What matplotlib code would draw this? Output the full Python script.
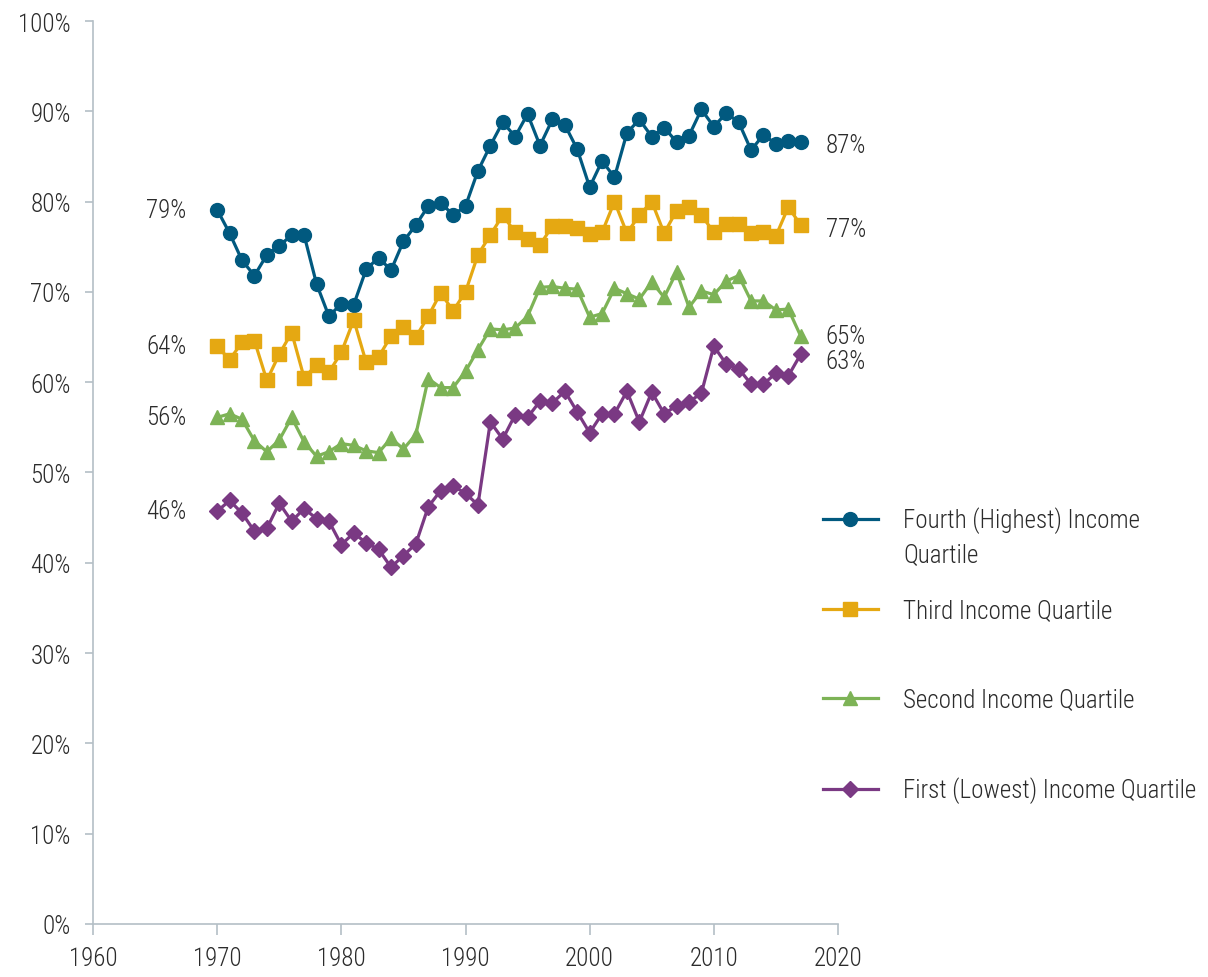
import numpy as np
import matplotlib.pyplot as plt
from matplotlib.ticker import FuncFormatter

years = np.arange(1970, 2018)

fourth = [79.1, 76.5, 73.5, 71.8, 74.1, 75.1, 76.3, 76.3, 70.9, 67.3,
          68.7, 68.6, 72.5, 73.8, 72.4, 75.6, 77.4, 79.5, 79.9, 78.5,
          79.5, 83.4, 86.2, 88.8, 87.2, 89.7, 86.2, 89.1, 88.5, 85.8,
          81.6, 84.5, 82.7, 87.6, 89.1, 87.2, 88.2, 86.6, 87.3, 90.2,
          88.3, 89.8, 88.8, 85.7, 87.4, 86.4, 86.7, 86.6]
third = [64.0, 62.5, 64.4, 64.6, 60.2, 63.1, 65.5, 60.5, 61.9, 61.1,
         63.3, 66.9, 62.2, 62.8, 65.1, 66.1, 65.0, 67.3, 69.9, 67.9,
         70.0, 74.1, 76.3, 78.5, 76.6, 75.9, 75.2, 77.3, 77.3, 77.1,
         76.4, 76.6, 80.0, 76.5, 78.5, 80.0, 76.5, 79.0, 79.4, 78.5,
         76.6, 77.5, 77.5, 76.5, 76.6, 76.2, 79.4, 77.4]
second = [56.1, 56.5, 55.9, 53.5, 52.3, 53.6, 56.1, 53.4, 51.8, 52.3,
          53.2, 53.0, 52.4, 52.2, 53.8, 52.6, 54.2, 60.4, 59.4, 59.4,
          61.2, 63.6, 65.9, 65.8, 66.0, 67.3, 70.5, 70.6, 70.4, 70.3,
          67.2, 67.6, 70.4, 69.8, 69.2, 71.1, 69.4, 72.2, 68.3, 70.1,
          69.7, 71.2, 71.8, 69.0, 69.0, 68.0, 68.1, 65.1]
first = [45.7, 46.9, 45.5, 43.5, 43.8, 46.6, 44.6, 46.0, 44.9, 44.6,
         42.0, 43.3, 42.2, 41.5, 39.5, 40.8, 42.1, 46.2, 48.0, 48.5,
         47.7, 46.4, 55.6, 53.7, 56.4, 56.1, 57.9, 57.7, 59.0, 56.7,
         54.4, 56.5, 56.5, 59.0, 55.6, 58.9, 56.5, 57.4, 57.8, 58.8,
         64.0, 62.0, 61.5, 59.8, 59.8, 61.0, 60.7, 63.1]

labels = ["Fourth (Highest) Income", "Third Income Quartile",
          "Second Income Quartile", "First (Lowest) Income Quartile"]
series = [fourth, third, second, first]
colors = ["#01597f", "#e5a812", "#7db356", "#7a3983"]
markers = ["o", "s", "^", "D"]
msizes = [10, 10, 10, 8.5]
# vertical nudges (points) for end labels
end_dy = [-2, -3, 0, -5]

plt.rcParams['font.family'] = ['Roboto Condensed', 'Liberation Sans Narrow',
                               'Liberation Sans', 'DejaVu Sans']
plt.rcParams['font.weight'] = 'light'
text_col = "#2b2b2b"
axis_col = "#b4bfc6"
fs = 18

fig = plt.figure(figsize=(12.08, 9.78), dpi=100)
ax = fig.add_axes([0.077, 0.0542, 0.6167, 0.9233])

for vals, lab, c, m, ms, dy in zip(series, labels, colors, markers, msizes, end_dy):
    ax.plot(years, vals, color=c, lw=2.3, marker=m, ms=ms, label=lab,
            clip_on=False, zorder=3)
    ax.annotate(f"{round(vals[0])}%", (years[0], vals[0]), xytext=(-22, 0),
                textcoords='offset points', ha='right', va='center',
                fontsize=fs, color=text_col)
    ax.annotate(f"{round(vals[-1])}%", (years[-1], vals[-1]), xytext=(18, dy),
                textcoords='offset points', ha='left', va='center',
                fontsize=fs, color=text_col)

ax.set_xlim(1960, 2020)
ax.set_ylim(0, 100)
ax.set_xticks(range(1960, 2021, 10))
ax.set_yticks(range(0, 101, 10))
ax.yaxis.set_major_formatter(FuncFormatter(lambda v, p: f"{v:.0f}%"))

for s in ['top', 'right']:
    ax.spines[s].set_visible(False)
for s in ['left', 'bottom']:
    ax.spines[s].set_color(axis_col)
    ax.spines[s].set_linewidth(1.2)
ax.tick_params(axis='both', colors=axis_col, labelcolor=text_col,
               labelsize=fs, direction='out', width=1.2)
ax.tick_params(axis='y', length=6, pad=10)
ax.tick_params(axis='x', length=8, pad=8)

leg = fig.legend(loc='center left', bbox_to_anchor=(0.681, 1 - 656 / 978),
                 frameon=False, fontsize=fs, handlelength=2.2,
                 handletextpad=1.0, labelspacing=2.6, borderpad=0,
                 borderaxespad=0)
for t in leg.get_texts():
    t.set_color(text_col)
fig.text(903 / 1208, 1 - 555 / 978, "Quartile", fontsize=fs,
         color=text_col, ha='left', va='center')

fig.savefig("out.png", dpi=100)
